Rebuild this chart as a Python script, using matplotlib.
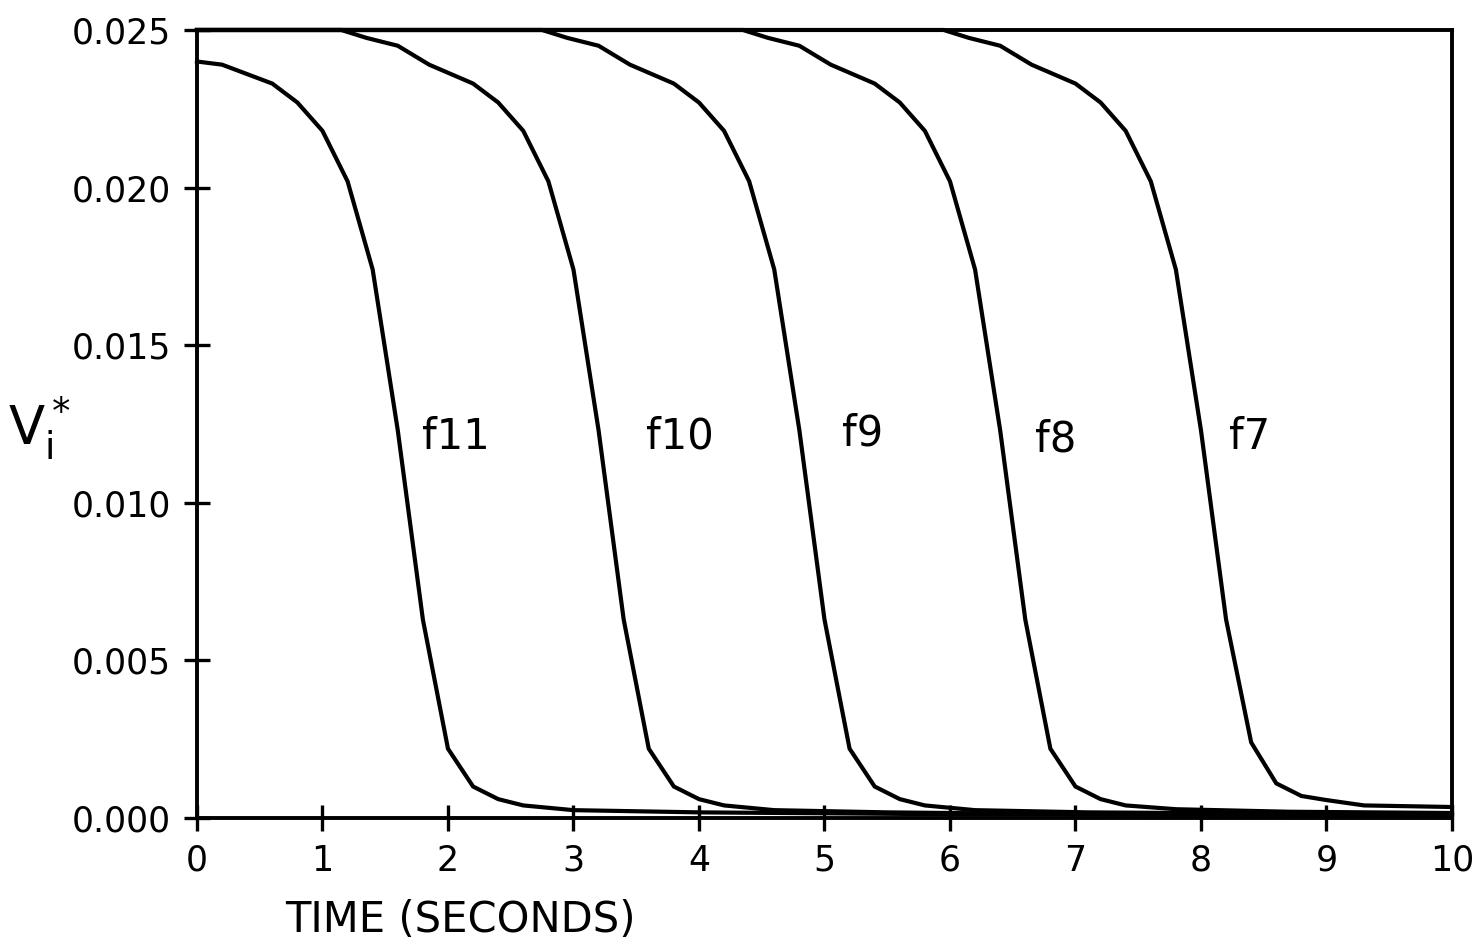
"""
Decay of V*_i with time for the five sections f7..f11.
Piecewise-linear curves read off the original plot.
"""
import matplotlib
matplotlib.use("Agg")
import matplotlib.pyplot as plt

# ── data (time in seconds, value of V*_i) ──
t_f11 = [0.0, 0.2, 0.4, 0.6, 0.8, 1.0, 1.2, 1.4, 1.6, 1.8, 2.0, 2.2, 2.4, 2.6,
         3.0, 4.0, 6.0, 10.0]
v_f11 = [0.0240, 0.0239, 0.0236, 0.0233, 0.0227, 0.0218, 0.0202, 0.0174,
         0.0123, 0.0063, 0.0022, 0.0010, 0.0006, 0.0004, 0.00025, 0.00018,
         0.00012, 0.0001]

t_f10 = [0.0, 1.15, 1.35, 1.6, 1.85, 2.2, 2.4, 2.6, 2.8, 3.0, 3.2, 3.4, 3.6,
         3.8, 4.0, 4.2, 4.6, 5.5, 7.0, 10.0]
v_f10 = [0.0250, 0.0250, 0.02475, 0.0245, 0.0239, 0.0233, 0.0227, 0.0218,
         0.0202, 0.0174, 0.0123, 0.0063, 0.0022, 0.0010, 0.0006, 0.0004,
         0.00025, 0.00018, 0.00012, 0.0001]

t_f9 = [0.0, 2.75, 2.95, 3.2, 3.45, 3.8, 4.0, 4.2, 4.4, 4.6, 4.8, 5.0, 5.2,
        5.4, 5.6, 5.8, 6.2, 7.1, 8.6, 10.0]
v_f9 = [0.0250, 0.0250, 0.02475, 0.0245, 0.0239, 0.0233, 0.0227, 0.0218,
        0.0202, 0.0174, 0.0123, 0.0063, 0.0022, 0.0010, 0.0006, 0.0004,
        0.00025, 0.00018, 0.00014, 0.00012]

t_f8 = [0.0, 4.35, 4.55, 4.8, 5.05, 5.4, 5.6, 5.8, 6.0, 6.2, 6.4, 6.6, 6.8,
        7.0, 7.2, 7.4, 7.8, 8.7, 10.0]
v_f8 = [0.0250, 0.0250, 0.02475, 0.0245, 0.0239, 0.0233, 0.0227, 0.0218,
        0.0202, 0.0174, 0.0123, 0.0063, 0.0022, 0.0010, 0.0006, 0.0004,
        0.00028, 0.0002, 0.00016]

t_f7 = [0.0, 5.95, 6.15, 6.4, 6.65, 7.0, 7.2, 7.4, 7.6, 7.8, 8.0, 8.2, 8.4,
        8.6, 8.8, 9.0, 9.3, 10.0]
v_f7 = [0.0250, 0.0250, 0.02475, 0.0245, 0.0239, 0.0233, 0.0227, 0.0218,
        0.0202, 0.0174, 0.0123, 0.0063, 0.0024, 0.0011, 0.0007, 0.00057,
        0.0004, 0.00035]

curve_names = ["f11", "f10", "f9", "f8", "f7"]
label_t = [2.06, 3.85, 5.3, 6.84, 8.39]
label_v = [0.0121, 0.0121, 0.0122, 0.0120, 0.0121]

x_ticks = list(range(0, 11))
y_ticks = [0.000, 0.005, 0.010, 0.015, 0.020, 0.025]


def main():
    plt.rcParams["font.family"] = "DejaVu Sans"
    fig = plt.figure(figsize=(14.81, 9.49), dpi=100)
    ax = fig.add_axes([0.1330, 0.1380, 0.8474, 0.8304])

    curves = [(t_f11, v_f11), (t_f10, v_f10), (t_f9, v_f9), (t_f8, v_f8), (t_f7, v_f7)]
    for t, v in curves:
        ax.plot(t, v, color="black", lw=3.0, solid_joinstyle="miter", clip_on=False)

    for name, tx, vy in zip(curve_names, label_t, label_v):
        ax.text(tx, vy, name, fontsize=30, ha="center", va="center")

    ax.set_xlim(0, 10)
    ax.set_ylim(0, 0.025)
    ax.set_xticks(x_ticks)
    ax.set_xticklabels([str(x) for x in x_ticks])
    ax.set_yticks(y_ticks)
    ax.set_yticklabels([f"{y:.3f}" for y in y_ticks])
    ax.tick_params(direction="inout", length=19, width=2.4, labelsize=25,
                   top=False, right=False)
    ax.tick_params(axis="x", pad=9)
    ax.tick_params(axis="y", pad=9)
    for s in ax.spines.values():
        s.set_linewidth(2.8)

    fig.text(460 / 1481, 1 - 920 / 949, "TIME (SECONDS)", fontsize=30,
             ha="center", va="center")
    fig.text(40 / 1481, 1 - 428 / 949, r"$\mathregular{V_i^*}$", fontsize=38,
             ha="center", va="center")

    fig.savefig("out.png", dpi=100)
    plt.close(fig)


if __name__ == "__main__":
    main()
